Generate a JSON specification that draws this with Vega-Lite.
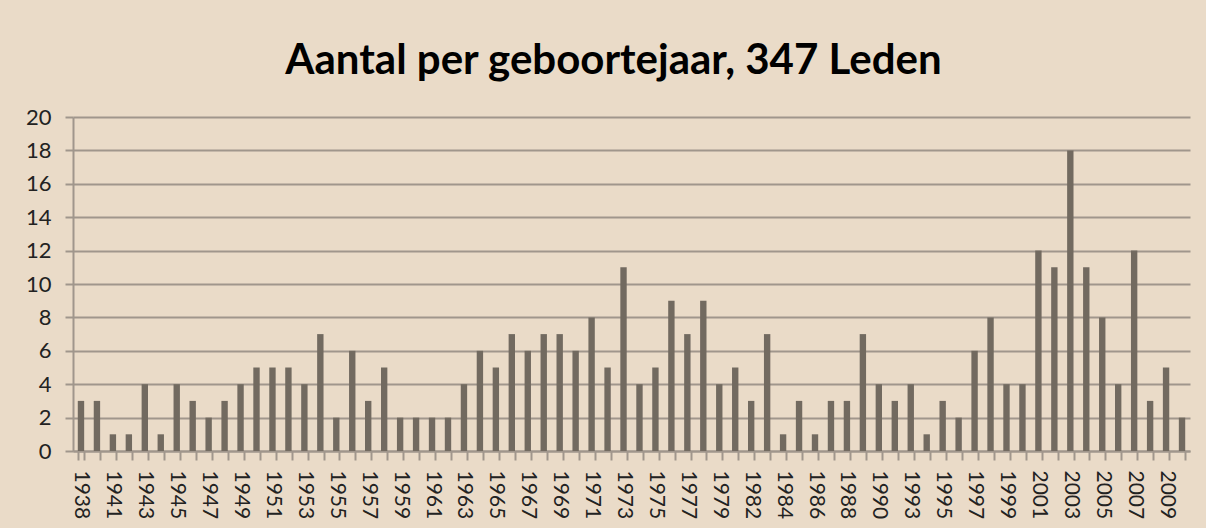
{
  "$schema": "https://vega.github.io/schema/vega-lite/v6.json",
  "width": 1117,
  "height": 334,
  "autosize": {"type": "none"},
  "padding": {"left": 73, "top": 117, "right": 16, "bottom": 77},
  "background": "#EADBC8",
  "title": {
    "text": "Aantal per geboortejaar, 347 Leden",
    "font": "Lato",
    "fontSize": 42,
    "fontWeight": "bold",
    "color": "#000000",
    "anchor": "middle",
    "offset": 34,
    "baseline": "bottom",
    "dx": -18,
    "dy": 53
  },
  "data": {
    "values": [
      {"jaar": "1938", "aantal": 3}, {"jaar": "1939", "aantal": 3}, {"jaar": "1941", "aantal": 1}, {"jaar": "1942", "aantal": 1},
      {"jaar": "1943", "aantal": 4}, {"jaar": "1944", "aantal": 1}, {"jaar": "1945", "aantal": 4}, {"jaar": "1946", "aantal": 3},
      {"jaar": "1947", "aantal": 2}, {"jaar": "1948", "aantal": 3}, {"jaar": "1949", "aantal": 4}, {"jaar": "1950", "aantal": 5},
      {"jaar": "1951", "aantal": 5}, {"jaar": "1952", "aantal": 5}, {"jaar": "1953", "aantal": 4}, {"jaar": "1954", "aantal": 7},
      {"jaar": "1955", "aantal": 2}, {"jaar": "1956", "aantal": 6}, {"jaar": "1957", "aantal": 3}, {"jaar": "1958", "aantal": 5},
      {"jaar": "1959", "aantal": 2}, {"jaar": "1960", "aantal": 2}, {"jaar": "1961", "aantal": 2}, {"jaar": "1962", "aantal": 2},
      {"jaar": "1963", "aantal": 4}, {"jaar": "1964", "aantal": 6}, {"jaar": "1965", "aantal": 5}, {"jaar": "1966", "aantal": 7},
      {"jaar": "1967", "aantal": 6}, {"jaar": "1968", "aantal": 7}, {"jaar": "1969", "aantal": 7}, {"jaar": "1970", "aantal": 6},
      {"jaar": "1971", "aantal": 8}, {"jaar": "1972", "aantal": 5}, {"jaar": "1973", "aantal": 11}, {"jaar": "1974", "aantal": 4},
      {"jaar": "1975", "aantal": 5}, {"jaar": "1976", "aantal": 9}, {"jaar": "1977", "aantal": 7}, {"jaar": "1978", "aantal": 9},
      {"jaar": "1979", "aantal": 4}, {"jaar": "1980", "aantal": 5}, {"jaar": "1982", "aantal": 3}, {"jaar": "1983", "aantal": 7},
      {"jaar": "1984", "aantal": 1}, {"jaar": "1985", "aantal": 3}, {"jaar": "1986", "aantal": 1}, {"jaar": "1987", "aantal": 3},
      {"jaar": "1988", "aantal": 3}, {"jaar": "1989", "aantal": 7}, {"jaar": "1990", "aantal": 4}, {"jaar": "1991", "aantal": 3},
      {"jaar": "1993", "aantal": 4}, {"jaar": "1994", "aantal": 1}, {"jaar": "1995", "aantal": 3}, {"jaar": "1996", "aantal": 2},
      {"jaar": "1997", "aantal": 6}, {"jaar": "1998", "aantal": 8}, {"jaar": "1999", "aantal": 4}, {"jaar": "2000", "aantal": 4},
      {"jaar": "2001", "aantal": 12}, {"jaar": "2002", "aantal": 11}, {"jaar": "2003", "aantal": 18}, {"jaar": "2004", "aantal": 11},
      {"jaar": "2005", "aantal": 8}, {"jaar": "2006", "aantal": 4}, {"jaar": "2007", "aantal": 12}, {"jaar": "2008", "aantal": 3},
      {"jaar": "2009", "aantal": 5}, {"jaar": "2010", "aantal": 2}
    ]
  },
  "mark": {"type": "bar", "color": "#726A60"},
  "encoding": {
    "x": {
      "field": "jaar",
      "type": "ordinal",
      "scale": {"paddingInner": 0.6, "paddingOuter": 0.3},
      "axis": {
        "title": null,
        "labelAngle": 90,
        "labelAlign": "left",
        "labelBaseline": "middle",
        "labelOverlap": false,
        "labelFont": "Lato",
        "labelFontSize": 21,
        "labelColor": "#222222",
        "labelPadding": 10,
        "labelExpr": "indexof(['1938','1941','1943','1945','1947','1949','1951','1953','1955','1957','1959','1961','1963','1965','1967','1969','1971','1973','1975','1977','1979','1982','1984','1986','1988','1990','1993','1995','1997','1999','2001','2003','2005','2007','2009'], datum.label) >= 0 ? datum.label : ''",
        "tickBand": "extent",
        "tickSize": 9,
        "tickWidth": 2,
        "tickColor": "#A0968C",
        "domainColor": "#A0968C",
        "domainWidth": 2
      }
    },
    "y": {
      "field": "aantal",
      "type": "quantitative",
      "scale": {"domain": [0, 20], "nice": false},
      "axis": {
        "title": null,
        "values": [0, 2, 4, 6, 8, 10, 12, 14, 16, 18, 20],
        "grid": true,
        "gridColor": "#A0968C",
        "gridWidth": 2,
        "domainColor": "#A0968C",
        "domainWidth": 2,
        "tickColor": "#A0968C",
        "tickWidth": 2,
        "tickSize": 8,
        "labelPadding": 14,
        "labelFont": "Lato",
        "labelFontSize": 22,
        "labelColor": "#222222"
      }
    }
  },
  "config": {"view": {"stroke": null}}
}
